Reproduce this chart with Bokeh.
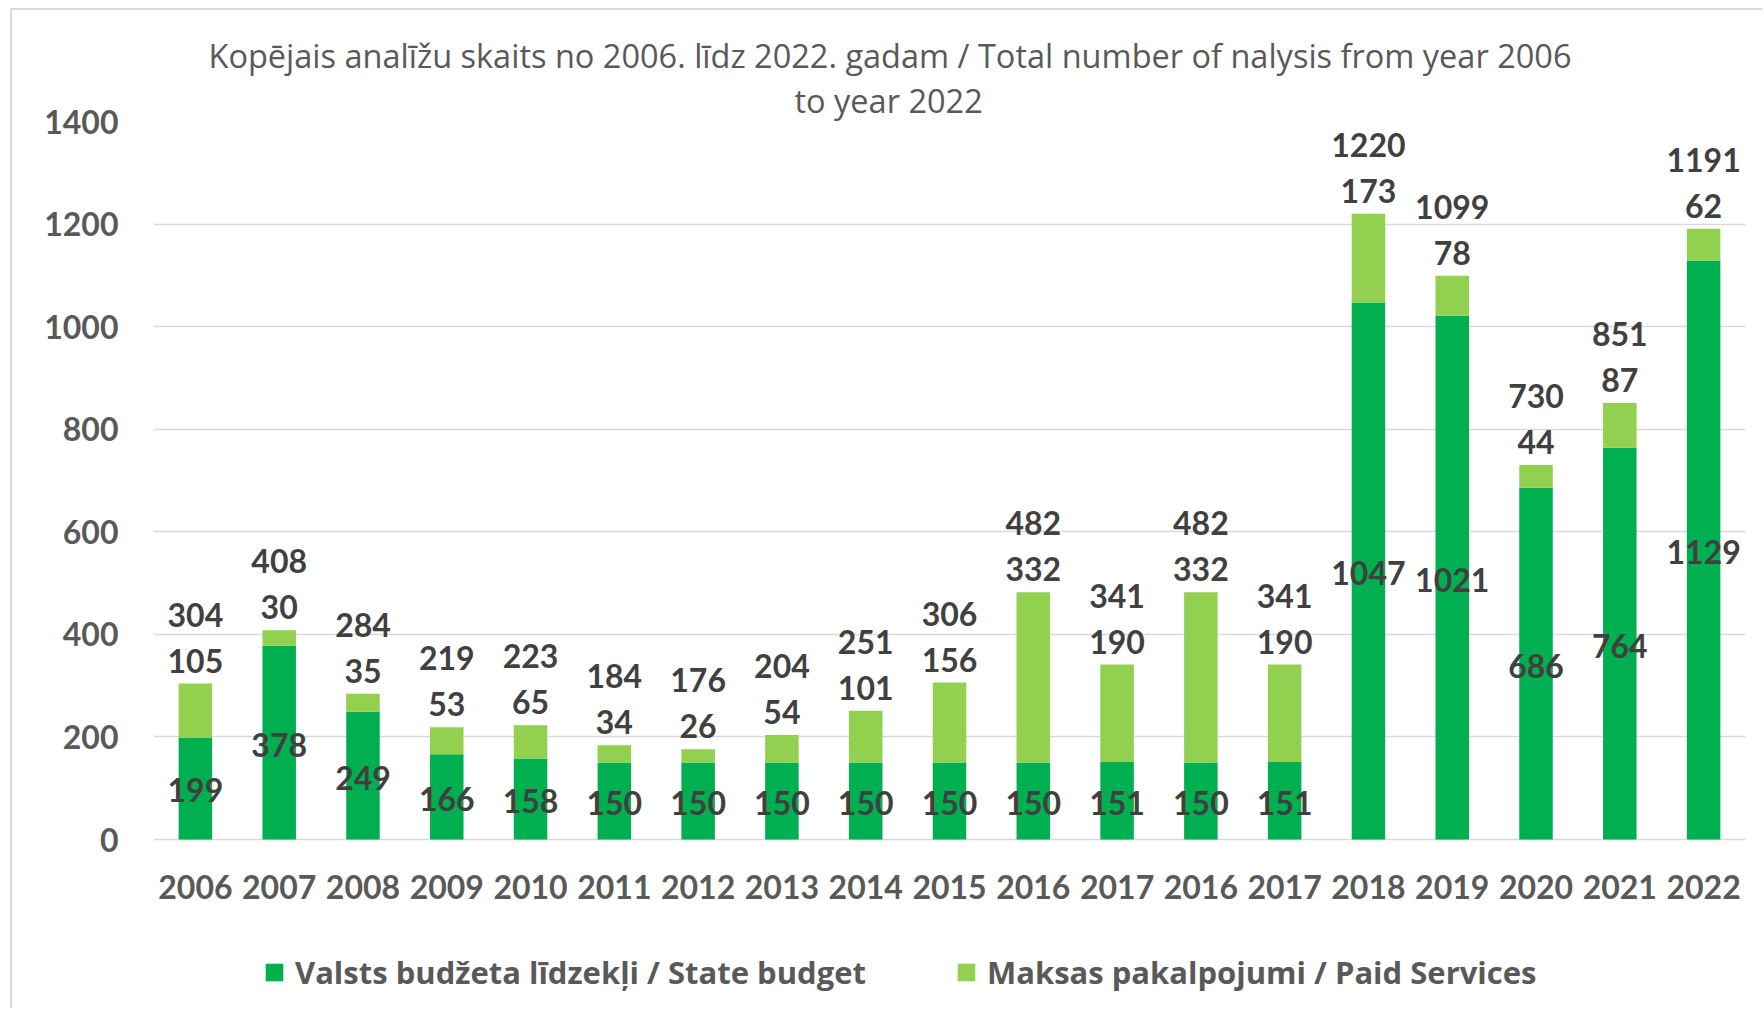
from bokeh.plotting import figure
from bokeh.models import (ColumnDataSource, Range1d, LabelSet, Legend, Title,
                          LegendItem, FixedTicker)
from bokeh.embed import file_html
from bokeh.resources import INLINE
from bokeh.core.properties import value

years = ["2006", "2007", "2008", "2009", "2010", "2011", "2012", "2013", "2014",
         "2015", "2016", "2017", "2016", "2017", "2018", "2019", "2020", "2021", "2022"]
state = [199, 378, 249, 166, 158, 150, 150, 150, 150, 150, 150, 151, 150, 151,
         1047, 1021, 686, 764, 1129]
paid = [105, 30, 35, 53, 65, 34, 26, 54, 101, 156, 332, 190, 332, 190,
        173, 78, 44, 87, 62]
totals = [304, 408, 284, 219, 223, 184, 176, 204, 251, 306, 482, 341, 482, 341,
          1220, 1099, 730, 851, 1191]
y_ticks = [0, 200, 400, 600, 800, 1000, 1200, 1400]

title_1 = "Kopējais analīžu skaits no 2006. līdz 2022. gadam / Total number of nalysis from year 2006"
title_2 = "to year 2022"
series_names = ["Valsts budžeta līdzekļi / State budget", "Maksas pakalpojumi / Paid Services"]

FONT = "Lato"
TFONT = "Open Sans"
GREEN = "#00B050"
LIGHT = "#92D050"
AXIS_C = "#595959"
LBL_C = "#404040"

# layout geometry (pixels): frame top, zero line, frame bottom (legend lives below zero)
FRAME_TOP, ZERO_Y, FRAME_BOTTOM = 121, 839, 1008
Y_MAX = y_ticks[-1]
y_min = -(FRAME_BOTTOM - ZERO_Y) * Y_MAX / (ZERO_Y - FRAME_TOP)

xs = list(range(len(years)))
src = ColumnDataSource(dict(
    x=xs, state=state, paid=paid, total=totals,
    state_mid=[s / 2 for s in state],
    state_txt=[str(v) for v in state],
    paid_txt=[str(v) for v in paid],
    total_txt=[str(v) for v in totals],
))

p = figure(width=1752, height=1000, x_range=Range1d(-0.5, len(years) - 0.5),
           y_range=Range1d(y_min, Y_MAX), output_backend="svg", toolbar_location=None,
           title=None,
           min_border_left=141, min_border_right=19, min_border_top=111,
           min_border_bottom=2)
p.outline_line_color = None
p.background_fill_color = "white"
p.border_fill_color = "white"
p.styles = {"border-left": "2px solid #d9d9d9", "border-top": "2px solid #d9d9d9",
            "margin-left": "10px", "margin-top": "8px"}

rs = p.vbar_stack(["state", "paid"], x="x", width=0.4, source=src,
                  color=[GREEN, LIGHT], line_color=None)

# axes
p.xaxis.fixed_location = 0
p.xaxis.ticker = FixedTicker(ticks=xs)
p.xaxis.major_label_overrides = {i: y for i, y in enumerate(years)}
p.yaxis.ticker = FixedTicker(ticks=y_ticks)
for ax in (p.xaxis, p.yaxis):
    ax.axis_line_color = None
    ax.major_tick_line_color = None
    ax.minor_tick_line_color = None
    ax.major_label_text_font = FONT
    ax.major_label_text_font_size = "32px"
    ax.major_label_text_font_style = "bold"
    ax.major_label_text_color = AXIS_C
p.yaxis.major_label_standoff = 29
p.xaxis.major_label_standoff = 29
p.xgrid.grid_line_color = None
p.ygrid.grid_line_color = "#d9d9d9"
p.ygrid.grid_line_width = 1.5

# data labels
common = dict(source=src, text_align="center", text_baseline="middle",
              text_font=value(FONT), text_font_size="32px", text_font_style="bold",
              text_color=LBL_C)
p.add_layout(LabelSet(x="x", y="state_mid", text="state_txt", y_offset=-2, **common))
p.add_layout(LabelSet(x="x", y="total", text="paid_txt", y_offset=23, **common))
p.add_layout(LabelSet(x="x", y="total", text="total_txt", y_offset=69, **common))

# title (two lines; the one added last sits furthest from the plot)
for txt, so, off in ((title_2, -3.6, 641), (title_1, 1, 55)):
    p.add_layout(Title(text=txt, align="left", offset=off, standoff=so,
                       text_font=TFONT, text_font_size="32.5px", text_font_style="normal",
                       text_color=AXIS_C), "above")

legend = Legend(items=[LegendItem(label=series_names[0], renderers=[rs[0]]),
                       LegendItem(label=series_names[1], renderers=[rs[1]])],
                orientation="horizontal", location=(110, 15),
                border_line_color=None, background_fill_alpha=0, padding=0, margin=0,
                spacing=89, label_standoff=10, glyph_width=22, glyph_height=22,
                label_height=22, label_text_font=TFONT, label_text_font_size="31px",
                label_text_font_style="bold", label_text_color=AXIS_C)
p.add_layout(legend)

open("out.html", "w").write(file_html(p, INLINE))
